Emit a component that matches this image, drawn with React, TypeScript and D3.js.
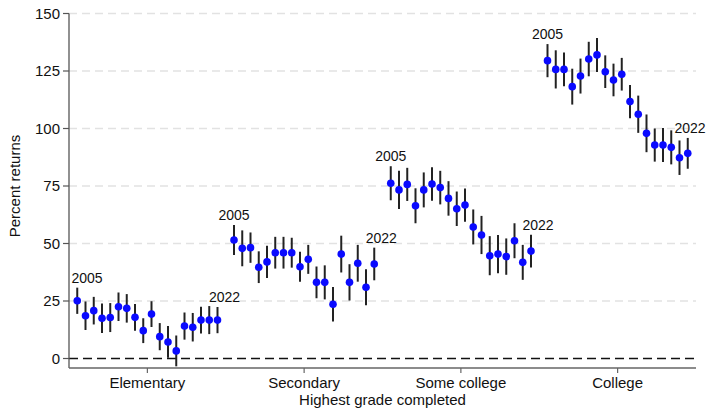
import React from "react";
import * as d3 from "d3";

const groups = ["Elementary", "Secondary", "Some college", "College"];
const years = [2005, 2006, 2007, 2008, 2009, 2010, 2011, 2012, 2013, 2014, 2015, 2016, 2017, 2018, 2019, 2020, 2021, 2022];

// point estimates (percent returns), one value per year
const elementary = [25.1, 18.6, 20.8, 17.5, 17.8, 22.5, 21.8, 17.9, 12.1, 19.3, 9.5, 7.2, 3.3, 14.1, 13.6, 16.7, 16.7, 16.7];
const secondary = [51.5, 47.9, 48.2, 39.7, 42.0, 46.0, 46.0, 46.0, 39.9, 43.1, 33.1, 33.1, 23.6, 45.4, 33.1, 41.4, 31.0, 41.1];
const someCollege = [76.2, 73.3, 75.7, 66.4, 73.3, 75.9, 74.3, 69.6, 65.1, 66.7, 57.2, 53.7, 44.7, 45.4, 44.3, 51.2, 41.8, 46.7];
const college = [129.5, 125.7, 125.7, 118.2, 122.8, 130.2, 132.0, 124.7, 121.1, 123.6, 111.7, 106.2, 97.9, 92.8, 92.8, 91.8, 87.3, 89.2];

// half width of the confidence intervals
const elementaryCI = [5.7, 6.2, 6.0, 6.4, 6.3, 6.2, 6.2, 5.8, 5.4, 5.6, 5.9, 6.9, 6.7, 5.9, 6.2, 5.8, 6.1, 5.7];
const secondaryCI = [6.5, 7.8, 6.6, 6.9, 7.0, 6.9, 6.9, 6.5, 6.5, 6.3, 6.9, 7.4, 7.5, 8.0, 7.9, 8.0, 7.8, 7.1];
const someCollegeCI = [7.4, 8.3, 7.2, 7.6, 7.6, 7.3, 7.3, 7.5, 7.5, 7.2, 7.6, 8.3, 8.5, 8.3, 7.9, 7.6, 7.6, 7.1];
const collegeCI = [7.2, 8.3, 7.3, 7.8, 7.6, 7.5, 7.4, 7.1, 7.1, 7.1, 7.2, 8.1, 8.2, 7.2, 7.4, 7.4, 7.5, 6.7];

const yTicks = [0, 25, 50, 75, 100, 125, 150];

const series = [elementary, secondary, someCollege, college];
const seriesCI = [elementaryCI, secondaryCI, someCollegeCI, collegeCI];

const W = 707;
const H = 412;
const left = 69;
const right = 696;
const top = 13.5;
const zeroY = 358.5;
const axisY = 368;
const font = "'Liberation Sans', Arial, Helvetica, sans-serif";

export default function App() {
  const slot = years.length + 1; // one empty slot between groups
  const x = d3.scaleLinear().domain([-1, groups.length * slot - 1]).range([left, right]);
  const y = d3.scaleLinear().domain([0, 150]).range([zeroY, top]);

  const pts = series.flatMap((vals, g) =>
    vals.map((v, j) => ({
      g,
      year: years[j],
      cx: x(g * slot + j),
      cy: y(v),
      lo: y(v - seriesCI[g][j]),
      hi: y(v + seriesCI[g][j]),
    }))
  );

  const labels = pts.filter((p) => p.year === years[0] || p.year === years[years.length - 1]);

  return (
    <svg width={W} height={H} style={{ position: "absolute", left: 0, top: 0, background: "#fff" }} fontFamily={font}>
      {/* grid */}
      {yTicks.filter((t) => t > 0).map((t) => (
        <line key={t} x1={left} x2={right} y1={y(t)} y2={y(t)} stroke="#e2e2e2" strokeWidth={1.3} strokeDasharray="8,5" />
      ))}
      <line x1={left} x2={right} y1={y(0)} y2={y(0)} stroke="#111" strokeWidth={1.5} strokeDasharray="9,5" />

      {/* axes */}
      <line x1={left} x2={left} y1={top} y2={axisY} stroke="#555" strokeWidth={1.3} />
      <line x1={left} x2={right} y1={axisY} y2={axisY} stroke="#666" strokeWidth={1.3} />
      {yTicks.map((t) => (
        <g key={t}>
          <line x1={left - 6} x2={left} y1={y(t)} y2={y(t)} stroke="#555" strokeWidth={1.2} />
          <text x={left - 9} y={y(t)} dy="0.35em" textAnchor="end" fontSize={15} fill="#111">
            {t}
          </text>
        </g>
      ))}
      {groups.map((name, g) => {
        const cx = x(g * slot + (years.length - 1) / 2);
        return (
          <g key={name}>
            <line x1={cx} x2={cx} y1={axisY} y2={axisY + 5} stroke="#666" strokeWidth={1.2} />
            <text x={cx} y={388} textAnchor="middle" fontSize={15} fill="#111">
              {name}
            </text>
          </g>
        );
      })}
      <text x={(left + right) / 2} y={405} textAnchor="middle" fontSize={15} fill="#111">
        Highest grade completed
      </text>
      <text transform={`translate(20,${(top + zeroY) / 2}) rotate(-90)`} textAnchor="middle" fontSize={15} fill="#111">
        Percent returns
      </text>

      {/* error bars and points */}
      {pts.map((p, i) => (
        <line key={"b" + i} x1={p.cx} x2={p.cx} y1={p.lo} y2={p.hi} stroke="#222" strokeWidth={2} />
      ))}
      {pts.map((p, i) => (
        <circle key={"c" + i} cx={p.cx} cy={p.cy} r={3.8} fill="#0a0aff" />
      ))}

      {labels.map((p, i) => {
        const first = p.year === years[0];
        let lx = first ? p.cx : p.cx + 7;
        lx = Math.max(left + 18, Math.min(W - 17, lx));
        return (
          <text key={"l" + i} x={lx} y={p.hi - 5} textAnchor="middle" fontSize={14} fill="#111">
            {p.year}
          </text>
        );
      })}
    </svg>
  );
}
